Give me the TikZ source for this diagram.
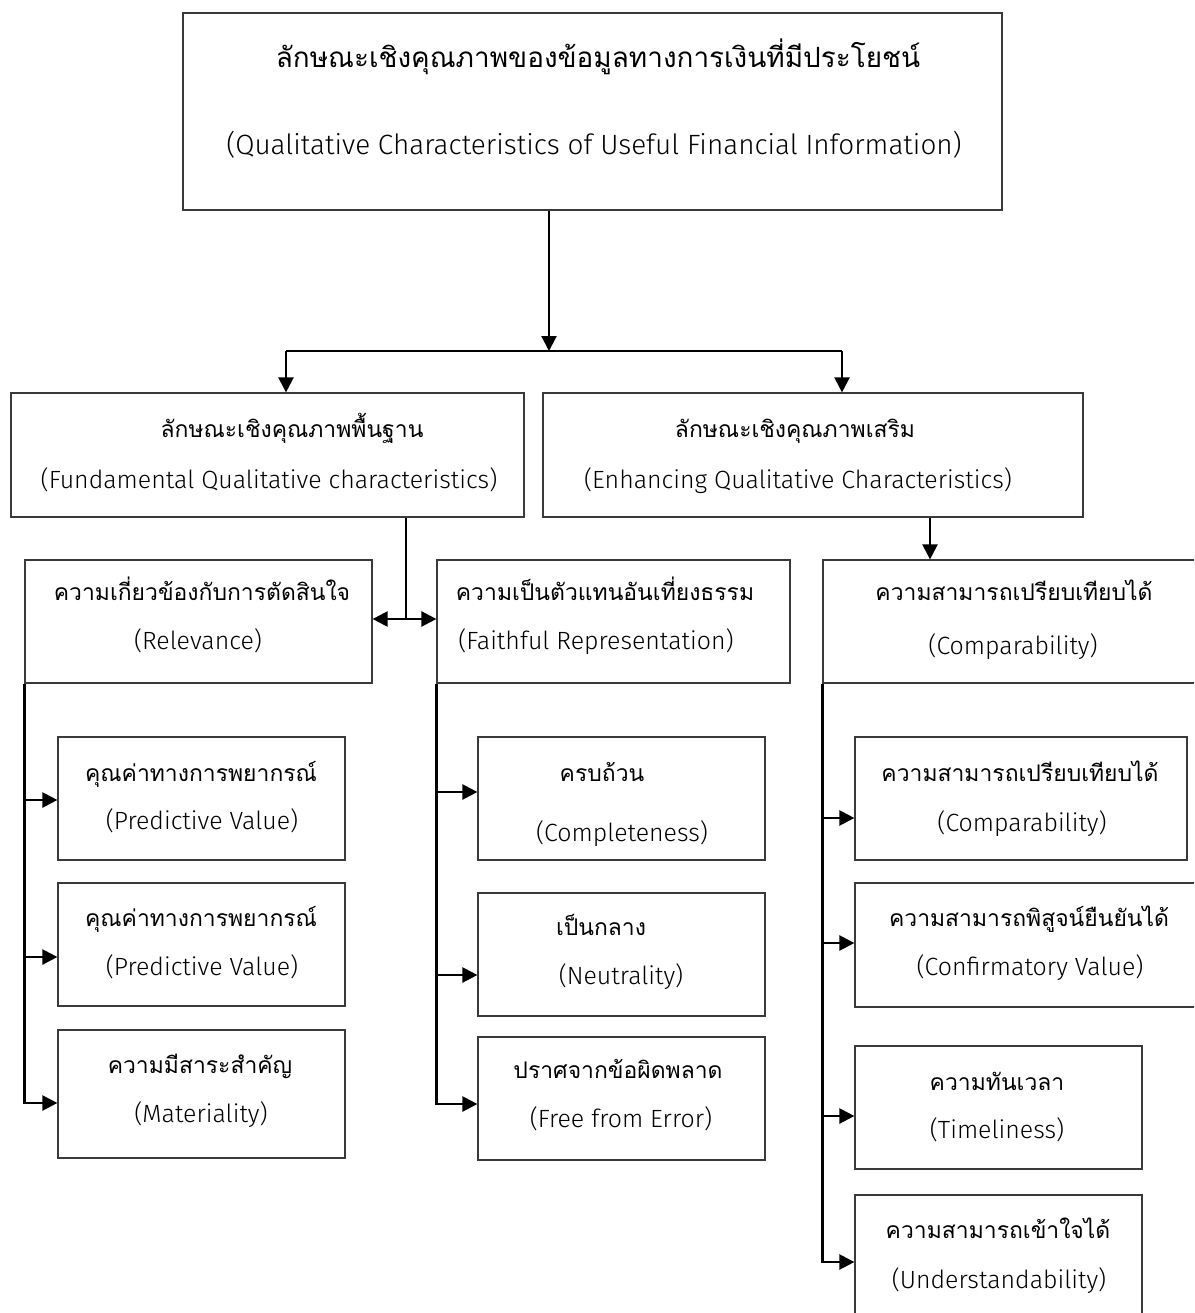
\documentclass[tikz,border=0pt]{standalone}
\usepackage{fontspec}
\newfontfamily\thaifont[Script=Thai]{Loma}
\IfFontExistsTF{Fira Sans Light}{\newfontfamily\latfont{Fira Sans Light}}{\newfontfamily\latfont{Fira Sans}}
\usetikzlibrary{arrows.meta}
\definecolor{boxc}{HTML}{3A3A3A}
\newcommand\bx[5]{\node[box, minimum width={(#4-#2)*1bp}, minimum height={(#5-#3)*1bp}] (#1) at ({(#2+#4)/2},{(#3+#5)/2}) {};}
\newcommand\tx[4]{\node[txt] (#1) at (#2,#3) {#4};}
\newcommand\lx[4]{\node[ltxt] (#1) at (#2,#3) {#4};}
\begin{document}
\begin{tikzpicture}[x=1bp,y=-1bp,
  box/.style={draw=boxc, line width=1.2bp, inner sep=0pt, rectangle},
  conn/.style={line width=2.3bp, draw=black},
  tip/.tip={Triangle[length=15bp,width=15bp]},
  arr/.style={conn, -tip},
  txt/.style={font=\thaifont\fontsize{23}{28}\selectfont, inner sep=0pt, anchor=mid, yshift=-5bp},
  ltxt/.style={font=\latfont\fontsize{25}{30}\selectfont, inner sep=0pt, anchor=mid, yshift=-7bp}]
\useasboundingbox (0,0) rectangle (1194,1313);
\clip (0,0) rectangle (1194,1313);
% boxes
\bx{top}{183}{13}{1002}{210}
\bx{fund}{11}{393}{524}{517}
\bx{enh}{543}{393}{1083}{517}
\bx{rel}{25}{560}{372}{683}
\bx{faith}{437}{560}{790}{683}
\bx{comp}{823}{560}{1210}{683}
\bx{pvA}{58}{737}{345}{860}
\bx{pvB}{58}{883}{345}{1006}
\bx{mat}{58}{1030}{345}{1158}
\bx{compl}{478}{737}{765}{860}
\bx{neut}{478}{893}{765}{1016}
\bx{free}{478}{1037}{765}{1160}
\bx{compB}{855}{737}{1187}{860}
\bx{conf}{855}{883}{1210}{1007}
\bx{time}{855}{1046}{1142}{1169}
\bx{und}{855}{1195}{1142}{1330}
% texts
\node[txt, font=\thaifont\fontsize{28}{34}\selectfont, yshift=-7bp] (t1) at (598,53) {ลักษณะเชิงคุณภาพของข้อมูลทางการเงินที่มีประโยชน์};
\node[ltxt, font=\latfont\fontsize{28}{34}\selectfont, yshift=-6bp] (t2) at (594,139) {(Qualitative Characteristics of Useful Financial Information)};
\tx{f1}{292}{430}{ลักษณะเชิงคุณภาพพื้นฐาน}
\lx{f2}{269}{479}{(Fundamental Qualitative characteristics)}
\tx{e1}{795}{430}{ลักษณะเชิงคุณภาพเสริม}
\lx{e2}{798}{479}{(Enhancing Qualitative Characteristics)}
\tx{r1}{202}{593}{ความเกี่ยวข้องกับการตัดสินใจ}
\lx{r2}{198}{640}{(Relevance)}
\tx{fa1}{605}{593}{ความเป็นตัวแทนอันเที่ยงธรรม}
\lx{fa2}{596}{640}{(Faithful Representation)}
\tx{c1}{1014}{593}{ความสามารถเปรียบเทียบได้}
\lx{c2}{1013}{645}{(Comparability)}
\tx{pa1}{201}{774}{คุณค่าทางการพยากรณ์}
\lx{pa2}{202}{820}{(Predictive Value)}
\tx{pb1}{201}{919}{คุณค่าทางการพยากรณ์}
\lx{pb2}{202}{966}{(Predictive Value)}
\tx{m1}{200}{1066}{ความมีสาระสำคัญ}
\lx{m2}{201}{1113}{(Materiality)}
\tx{cp1}{602}{774}{ครบถ้วน}
\lx{cp2}{622}{832}{(Completeness)}
\tx{n1}{601}{928}{เป็นกลาง}
\lx{n2}{621}{975}{(Neutrality)}
\tx{fr1}{618}{1071}{ปราศจากข้อผิดพลาด}
\lx{fr2}{621}{1118}{(Free from Error)}
\tx{cb1}{1020}{774}{ความสามารถเปรียบเทียบได้}
\lx{cb2}{1022}{822}{(Comparability)}
\tx{cf1}{1029}{919}{ความสามารถพิสูจน์ยืนยันได้}
\lx{cf2}{1030}{966}{(Confirmatory Value)}
\tx{ti1}{997}{1083}{ความทันเวลา}
\lx{ti2}{997}{1129}{(Timeliness)}
\tx{u1}{998}{1231}{ความสามารถเข้าใจได้}
\lx{u2}{999}{1279}{(Understandability)}
% connectors
\coordinate (j1) at (549,351);
\coordinate (ja) at (286,351);
\coordinate (jb) at (842,351);
\draw[arr] (j1 |- top.south) -- (j1);
\draw[conn] (ja) -- (jb);
\draw[arr] (ja) -- (ja |- fund.north);
\draw[arr] (jb) -- (jb |- enh.north);
\coordinate (j2) at (406,619);
\draw[conn] (j2 |- fund.south) -- (j2);
\draw[conn, tip-tip] (rel.east |- j2) -- (faith.west |- j2);
\coordinate (j3) at (930,540);
\draw[arr] (j3 |- enh.south) -- (j3 |- comp.north);
% left column
\coordinate (la) at (25,800);
\coordinate (lb) at (25,957);
\coordinate (lc) at (25,1103);
\draw[arr] (rel.south west) |- (mat.west |- lc);
\draw[arr] (la) -- (pvA.west |- la);
\draw[arr] (lb) -- (pvB.west |- lb);
% middle column
\coordinate (ma) at (437,792);
\coordinate (mb) at (437,975);
\coordinate (mc) at (437,1104);
\draw[arr] (faith.south west) |- (free.west |- mc);
\draw[arr] (ma) -- (compl.west |- ma);
\draw[arr] (mb) -- (neut.west |- mb);
% right column
\coordinate (ra) at (823,818);
\coordinate (rb) at (823,943);
\coordinate (rc) at (823,1116);
\coordinate (rd) at (823,1262);
\draw[arr] (comp.south west) |- (und.west |- rd);
\draw[arr] (ra) -- (compB.west |- ra);
\draw[arr] (rb) -- (conf.west |- rb);
\draw[arr] (rc) -- (time.west |- rc);
\end{tikzpicture}
\end{document}
